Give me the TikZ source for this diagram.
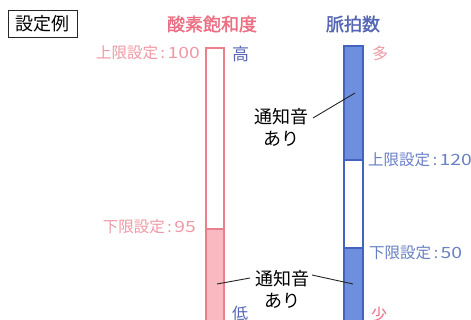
\documentclass[tikz,border=0pt]{standalone}
\usepackage{fontspec}
\setmainfont{Noto Sans CJK JP}
\newfontfamily\jpb{Noto Sans CJK JP}[FakeBold=1.5]
\definecolor{pinkT}{HTML}{EB6E82}
\definecolor{pinkL}{HTML}{F099A5}
\definecolor{pinkBar}{HTML}{EC7F8E}
\definecolor{pinkFill}{HTML}{F8B9C0}
\definecolor{blueT}{HTML}{5466B5}
\definecolor{blueL}{HTML}{6A80C6}
\definecolor{blueBar}{HTML}{4463C0}
\definecolor{blueFill}{HTML}{6D8FDE}
\newcommand{\widedig}[1]{\scalebox{1.25}[1]{#1}}
\begin{document}
\begin{tikzpicture}[x=1pt,y=-1pt,
  lbl/.style={inner sep=0pt,font=\fontsize{15.5}{16}\selectfont},
  ttl/.style={inner sep=0pt,font=\fontsize{18}{19}\selectfont\jpb},
  note/.style={inner sep=0pt,align=center,font=\fontsize{18}{22}\selectfont},
  lead/.style={draw=black!85,line width=0.9pt}]
\useasboundingbox (0,0) rectangle (471,320);
\fill[white] (0,0) rectangle (471,320);
% example box
\node[draw=black!85,line width=0.9pt,minimum width=69pt,minimum height=27pt,inner sep=0pt,
  font=\fontsize{18}{19}\selectfont] (ex) at (42.5,23.5) {設定例};
% titles
\node[ttl,text=pinkT] (t1) at (212,24) {酸素飽和度};
\node[ttl,text=blueT] (t2) at (353,24) {脈拍数};
% SpO2 bar
\fill[pinkFill] (206,229) rectangle (224,325);
\draw[pinkBar,line width=1.8pt] (206,325) -- (206,48) -- (224,48) -- (224,325);
\draw[pinkBar,line width=1.2pt] (206,229) -- (224,229);
% pulse bar
\fill[blueFill] (344,46) rectangle (363,160);
\fill[blueFill] (344,248) rectangle (363,325);
\draw[blueBar,line width=1.8pt] (344,325) -- (344,46) -- (363,46) -- (363,325);
\draw[blueBar,line width=1.2pt] (344,160) -- (363,160) (344,248) -- (363,248);
% labels
\node[lbl,text=pinkL,anchor=east] (u100) at (200,53) {上限設定\,:\,\widedig{100}};
\node[lbl,text=blueT,anchor=west,font=\fontsize{17}{18}\selectfont] (hi) at (232,54) {高};
\node[lbl,text=pinkL,anchor=west,font=\fontsize{16}{17}\selectfont] (many) at (372,53) {多};
\node[lbl,text=blueL,anchor=west] (u120) at (368,160) {上限設定\,:\,\widedig{120}};
\node[lbl,text=pinkL,anchor=east] (l95) at (196,227) {下限設定\,:\,\widedig{95}};
\node[lbl,text=blueL,anchor=west] (l50) at (369,253) {下限設定\,:\,\widedig{50}};
\node[lbl,text=blueT,anchor=west,font=\fontsize{16}{17}\selectfont] (lo) at (232,313) {低};
\node[lbl,text=pinkT,anchor=west,font=\fontsize{16}{17}\selectfont] (few) at (371,314) {少};
% notes
\node[note] (n1) at (281,127) {通知音\\あり};
\node[note] (n2) at (282,289) {通知音\\あり};
\coordinate (a1) at (313,118);
\coordinate (b1) at (355,93);
\coordinate (a2) at (250,278);
\coordinate (b2) at (217,284);
\coordinate (a3) at (312,275);
\coordinate (b3) at (353,284);
\draw[lead] (a1) -- (b1);
\draw[lead] (a2) -- (b2);
\draw[lead] (a3) -- (b3);
\end{tikzpicture}
\end{document}
